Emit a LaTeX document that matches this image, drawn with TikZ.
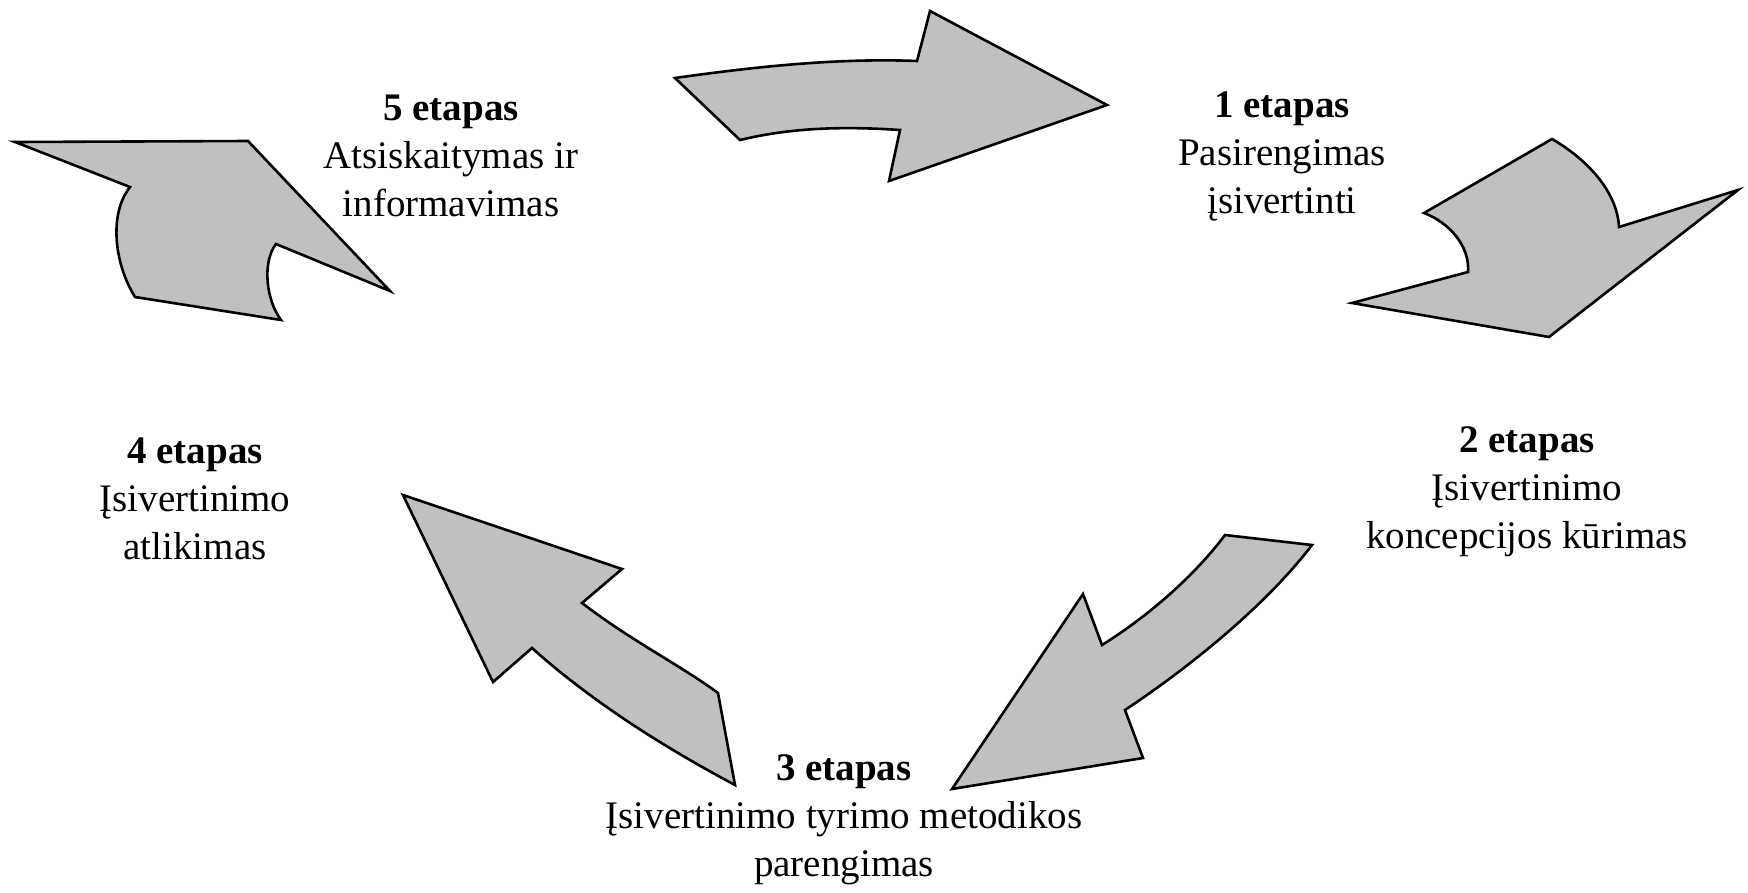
\documentclass[tikz,border=0pt]{standalone}
\usepackage{fontspec}
\setmainfont{Liberation Serif}
\definecolor{arrowgray}{RGB}{192,192,192}
\tikzset{
  bigarrow/.style={fill=arrowgray, draw=black, line width=2.6pt, line join=miter},
  stage/.style={align=center, font=\fontsize{39}{48}\selectfont, inner sep=0pt}
}
\begin{document}
\begin{tikzpicture}[x=1pt,y=-1pt]
\useasboundingbox (0,0) rectangle (1748,892);
% arrow 5 -> 1 (top)
\draw[bigarrow] (675,78) .. controls (760,66) and (840,58) .. (917,61) -- (930,11) -- (1107,105) -- (889,181) -- (900,130) .. controls (840,126) and (790,128) .. (740,140) -- cycle;
% arrow 1 -> 2 (right top)
\draw[bigarrow] (1552,139) .. controls (1585,158) and (1617,190) .. (1619,227) -- (1738,190) -- (1549,337) -- (1352,303) -- (1468,272) .. controls (1470,245) and (1448,222) .. (1424,213) -- cycle;
% arrow 4 -> 5 (left top)
\draw[bigarrow] (15,142) -- (248,141) -- (390,291) -- (276,244) .. controls (262,262) and (266,300) .. (281,320) -- (135,297) .. controls (115,265) and (108,215) .. (130,187) -- cycle;
% arrow 2 -> 3 (bottom right)
\draw[bigarrow] (1225,535) -- (1312,545) .. controls (1270,600) and (1200,660) .. (1125,710) -- (1143,758) -- (952,789) -- (1083,594) -- (1102,645) .. controls (1150,615) and (1195,575) .. (1225,535) -- cycle;
% arrow 3 -> 4 (bottom left)
\draw[bigarrow] (403,495) -- (622,569) -- (582,603) .. controls (630,640) and (680,665) .. (718,693) -- (735,785) .. controls (660,745) and (590,700) .. (532,648) -- (493,682) -- cycle;
% stage labels
\node[stage] (s5) at (451,156) {\textbf{5 etapas}\\Atsiskaitymas ir\\informavimas};
\node[stage] (s1) at (1282,156) {\textbf{1 etapas}\\Pasirengimas\\įsivertinti};
\node[stage] (s2) at (1527,492) {\textbf{2 etapas}\\Įsivertinimo\\koncepcijos kūrimas};
\node[stage] (s4) at (195,499) {\textbf{4 etapas}\\Įsivertinimo\\atlikimas};
\node[stage] (s3) at (844,820) {\textbf{3 etapas}\\Įsivertinimo tyrimo metodikos\\parengimas};
\end{tikzpicture}
\end{document}
